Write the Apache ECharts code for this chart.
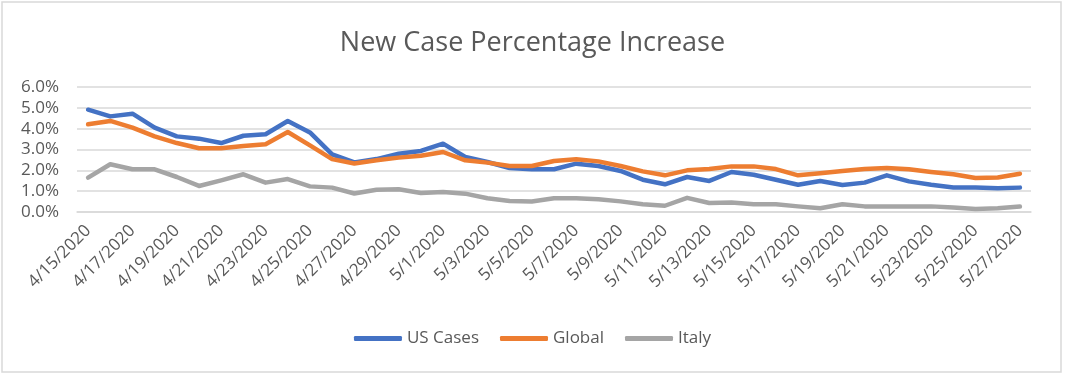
<!DOCTYPE html>
<html>
<head>
<meta charset="utf-8">
<script src="https://cdn.jsdelivr.net/npm/echarts@6/dist/echarts.min.js"></script>
<style>
  html, body { margin: 0; padding: 0; background: #fff; }
  #chart { width: 1065px; height: 376px; }
</style>
</head>
<body>
<div id="chart"></div>
<script>
// 日期
var dates = [
  '4/15/2020', '4/16/2020', '4/17/2020', '4/18/2020', '4/19/2020', '4/20/2020',
  '4/21/2020', '4/22/2020', '4/23/2020', '4/24/2020', '4/25/2020', '4/26/2020',
  '4/27/2020', '4/28/2020', '4/29/2020', '4/30/2020', '5/1/2020', '5/2/2020',
  '5/3/2020', '5/4/2020', '5/5/2020', '5/6/2020', '5/7/2020', '5/8/2020',
  '5/9/2020', '5/10/2020', '5/11/2020', '5/12/2020', '5/13/2020', '5/14/2020',
  '5/15/2020', '5/16/2020', '5/17/2020', '5/18/2020', '5/19/2020', '5/20/2020',
  '5/21/2020', '5/22/2020', '5/23/2020', '5/24/2020', '5/25/2020', '5/26/2020',
  '5/27/2020'
]
// percent values
var usCases = [
  4.91, 4.59, 4.72, 4.05, 3.63, 3.52, 3.31, 3.66, 3.73, 4.37, 3.82, 2.77,
  2.38, 2.54, 2.80, 2.93, 3.28, 2.64, 2.40, 2.11, 2.05, 2.05, 2.32, 2.21,
  1.97, 1.55, 1.33, 1.68, 1.49, 1.92, 1.79, 1.55, 1.31, 1.49, 1.30, 1.41,
  1.76, 1.47, 1.31, 1.18, 1.18, 1.14, 1.17
]
var global = [
  4.21, 4.37, 4.05, 3.63, 3.31, 3.06, 3.06, 3.17, 3.25, 3.84, 3.20, 2.54,
  2.33, 2.48, 2.61, 2.70, 2.88, 2.48, 2.37, 2.21, 2.21, 2.45, 2.53, 2.43,
  2.21, 1.95, 1.76, 2.00, 2.06, 2.19, 2.19, 2.06, 1.76, 1.86, 1.97, 2.06,
  2.11, 2.05, 1.92, 1.81, 1.63, 1.66, 1.84
]
var italy = [
  1.65, 2.29, 2.05, 2.05, 1.68, 1.25, 1.52, 1.81, 1.41, 1.58, 1.23, 1.17,
  0.89, 1.07, 1.09, 0.91, 0.96, 0.88, 0.66, 0.53, 0.50, 0.66, 0.66, 0.61,
  0.51, 0.37, 0.30, 0.68, 0.43, 0.46, 0.37, 0.37, 0.27, 0.18, 0.37, 0.27,
  0.27, 0.27, 0.27, 0.22, 0.14, 0.18, 0.26
]
var yTicks = { min: 0, max: 6, step: 1 }

var font = 'Open Sans'
var textColor = '#595959'

function lineSeries (name, data, color) {
  return {
    name: name,
    type: 'line',
    data: data,
    symbol: 'none',
    smooth: false,
    itemStyle: { color: color },
    lineStyle: { color: color, width: 4.5, join: 'round', cap: 'round' }
  }
}

var myChart = echarts.init(document.getElementById('chart'))
var option = {
  backgroundColor: '#fff',
  animation: false,
  // chart area border
  graphic: [{
    type: 'rect',
    shape: { x: 2, y: 2, width: 1059, height: 370 },
    style: { fill: 'none', stroke: '#d9d9d9', lineWidth: 1.5 },
    silent: true
  }],
  title: {
    text: 'New Case Percentage Increase',
    left: 'center',
    top: 25,
    textStyle: { fontFamily: font, fontSize: 27, fontWeight: 'normal', color: textColor }
  },
  legend: {
    bottom: 24,
    left: 'center',
    icon: 'roundRect',
    itemWidth: 48,
    itemHeight: 5,
    itemGap: 21,
    textStyle: { fontFamily: font, fontSize: 17, color: textColor }
  },
  grid: { left: 77, right: 34, top: 87, bottom: 164 },
  xAxis: {
    type: 'category',
    data: dates,
    boundaryGap: true,
    axisLine: { lineStyle: { color: '#d9d9d9', width: 1.5 } },
    axisTick: { interval: 1, length: 6, lineStyle: { color: '#d9d9d9', width: 1.5 } },
    axisLabel: {
      interval: 1,
      rotate: 45,
      margin: 16,
      fontFamily: font,
      fontSize: 17,
      color: textColor
    },
    splitLine: { show: false }
  },
  yAxis: {
    type: 'value',
    min: yTicks.min,
    max: yTicks.max,
    interval: yTicks.step,
    axisLine: { show: false },
    axisTick: { show: false },
    axisLabel: {
      margin: 18,
      fontFamily: font,
      fontSize: 17,
      color: textColor,
      formatter: function (v) { return v.toFixed(1) + '%' }
    },
    splitLine: { lineStyle: { color: '#d9d9d9', width: 1.5 } }
  },
  series: [
    lineSeries('US Cases', usCases, '#4472C4'),
    lineSeries('Global', global, '#ED7D31'),
    lineSeries('Italy', italy, '#A5A5A5')
  ]
}
myChart.setOption(option)
</script>
</body>
</html>
